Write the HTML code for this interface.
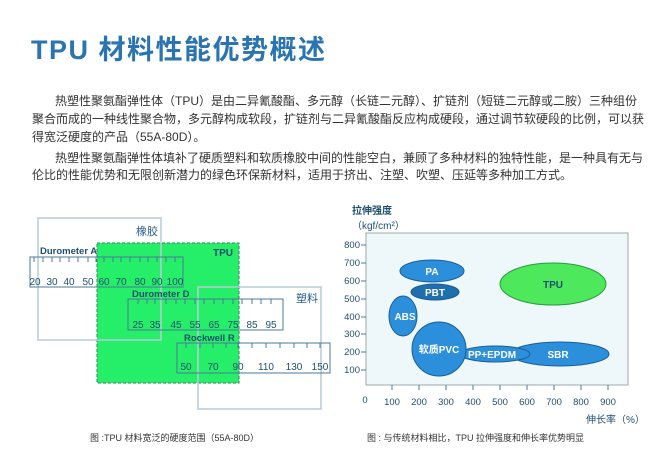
<!DOCTYPE html>
<html><head><meta charset="utf-8"><style>
body{margin:0;width:653px;height:453px;background:#fff;position:relative;overflow:hidden;font-family:"Liberation Sans","Noto Sans CJK SC",sans-serif;}
.a{position:absolute;white-space:nowrap;}
.t{font-size:12px;color:#333;line-height:14px;}
.j{text-align:justify;text-align-last:justify;}
</style></head><body>
<div class="a" style="left:31px;top:28px;font-size:27px;letter-spacing:1.5px;font-weight:bold;color:#2a74b2;">TPU 材料性能优势概述</div>
<div class="a t j" style="left:55px;top:94px;width:572px;">热塑性聚氨酯弹性体（TPU）是由二异氰酸酯、多元醇（长链二元醇）、扩链剂（短链二元醇或二胺）三种组份</div>
<div class="a t j" style="left:32px;top:112px;width:595px;">聚合而成的一种线性聚合物，多元醇构成软段，扩链剂与二异氰酸酯反应构成硬段，通过调节软硬段的比例，可以获</div>
<div class="a t" style="left:32px;top:130px;">得宽泛硬度的产品（55A-80D）。</div>
<div class="a t j" style="left:55px;top:151px;width:572px;">热塑性聚氨酯弹性体填补了硬质塑料和软质橡胶中间的性能空白，兼顾了多种材料的独特性能，是一种具有无与</div>
<div class="a t" style="left:32px;top:168px;">伦比的性能优势和无限创新潜力的绿色环保新材料，适用于挤出、注塑、吹塑、压延等多种加工方式。</div>

<svg class="a" style="left:0;top:0" width="653" height="453" font-family="Liberation Sans, Noto Sans CJK SC, sans-serif">
<rect x="97" y="243" width="142" height="140" fill="#25ee68" stroke="#2a8a50" stroke-dasharray="3,2"/>
<rect x="38" y="218" width="123" height="122" fill="none" stroke="#b8ccd6" stroke-width="1.5"/>
<rect x="198" y="287" width="123" height="122" fill="none" stroke="#b8ccd6" stroke-width="1.5"/>
<text x="136" y="235" font-size="11" fill="#2a5f8a">橡胶</text>
<text x="296" y="302" font-size="11" fill="#2a5f8a">塑料</text>
<text x="213" y="256" font-size="10" font-weight="bold" fill="#1e4e70">TPU</text>
<g fill="none" stroke="#4a7a99">
<rect x="30" y="257" width="153" height="30"/>
<rect x="128" y="299" width="155" height="31"/>
<rect x="177" y="343" width="153" height="30"/>
</g>
<g stroke="#4a7a99">
<path d="M34 257v5M43 257v5M52 257v5M60 257v5M69 257v5M78 257v5M88 257v5M96 257v5M104 257v5M113 257v5M121 257v5M130 257v5M140 257v5M148 257v5M157 257v5M166 257v5M175 257v5"/>
<path d="M138 299v5M147 299v5M155 299v5M166 299v5M176 299v5M185 299v5M195 299v5M204 299v5M214 299v5M223 299v5M233 299v5M242 299v5M252 299v5M261 299v5M271 299v5"/>
<path d="M186 343v5M200 343v5M213 343v5M226 343v5M238 343v5M252 343v5M266 343v5M280 343v5M294 343v5M307 343v5M320 343v5"/>
</g>
<g font-size="9.5" fill="#1e4e70" font-weight="bold">
<text x="40" y="254">Durometer A</text>
<text x="132" y="297">Durometer D</text>
<text x="184" y="341">Rockwell R</text>
</g>
<g font-size="10" fill="#1e4e70" text-anchor="middle">
<text x="35" y="285">20</text><text x="52" y="285">30</text><text x="69" y="285">40</text><text x="88" y="285">50</text><text x="104" y="285">60</text><text x="121" y="285">70</text><text x="140" y="285">80</text><text x="157" y="285">90</text><text x="175" y="285">100</text>
<text x="138" y="328">25</text><text x="155" y="328">35</text><text x="176" y="328">45</text><text x="195" y="328">55</text><text x="214" y="328">65</text><text x="233" y="328">75</text><text x="252" y="328">85</text><text x="271" y="328">95</text>
<text x="186" y="370">50</text><text x="213" y="370">70</text><text x="238" y="370">90</text><text x="266" y="370">110</text><text x="294" y="370">130</text><text x="320" y="370">150</text>
</g>
<text x="90" y="441" font-size="9" fill="#333">图 :TPU 材料宽泛的硬度范围（55A-80D）</text>

<rect x="366" y="233" width="262" height="152" fill="#eef7fa" stroke="#9aa" stroke-width="1"/>
<text x="352" y="214" font-size="10" fill="#1e4e70" font-weight="bold">拉伸强度</text>
<text x="352" y="229" font-size="10" fill="#1e4e70">（kgf/cm²）</text>
<g font-size="9.5" fill="#1e4e70" text-anchor="end">
<text x="360" y="248">800</text><text x="360" y="266">700</text><text x="360" y="284">600</text><text x="360" y="302">500</text><text x="360" y="320">400</text><text x="360" y="337">300</text><text x="360" y="355">200</text><text x="360" y="373">100</text>
</g>
<g stroke="#4a7a99"><path d="M361 245h5M361 263h5M361 281h5M361 299h5M361 317h5M361 334h5M361 352h5M361 370h5"/>
<path d="M392 385v5M419 385v5M446 385v5M473 385v5M500 385v5M527 385v5M554 385v5M581 385v5M608 385v5"/></g>
<g font-size="9.5" fill="#1e4e70" text-anchor="middle">
<text x="365" y="403">0</text><text x="392" y="405">100</text><text x="419" y="405">200</text><text x="446" y="405">300</text><text x="473" y="405">400</text><text x="500" y="405">500</text><text x="527" y="405">600</text><text x="554" y="405">700</text><text x="581" y="405">800</text><text x="608" y="405">900</text>
</g>
<text x="586" y="423" font-size="10" fill="#1e4e70">伸长率（%）</text>
<g stroke="#1a5f96" stroke-width="1" fill="#2b8fdc">
<ellipse cx="432" cy="271" rx="32" ry="11"/>
<ellipse cx="435" cy="292" rx="24" ry="8" fill="#1f6fb0"/>
<ellipse cx="403" cy="316" rx="14" ry="20"/>
<ellipse cx="560" cy="354" rx="49" ry="12"/>
<ellipse cx="495" cy="354" rx="35" ry="8"/>
<ellipse cx="439" cy="349" rx="27" ry="27"/>
<ellipse cx="553" cy="284" rx="53" ry="21" fill="#4ee85c" stroke="#2a9a40"/>
</g>
<g font-size="10" font-weight="bold" fill="#fff" text-anchor="middle">
<text x="432" y="275">PA</text><text x="435" y="296">PBT</text><text x="405" y="320">ABS</text>
<text x="439" y="353">软质PVC</text><text x="492" y="358">PP+EPDM</text><text x="558" y="358">SBR</text>
<text x="553" y="288" fill="#1e4e70">TPU</text>
</g>
<text x="367" y="441" font-size="9" fill="#333">图 : 与传统材料相比，TPU 拉伸强度和伸长率优势明显</text>
</svg>
</body></html>
